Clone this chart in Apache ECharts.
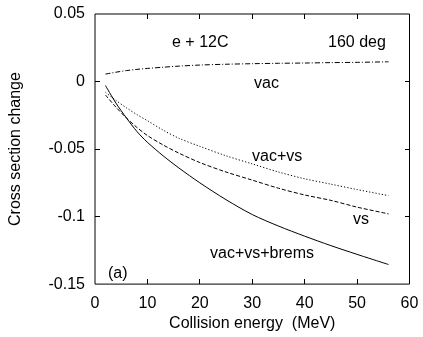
<!DOCTYPE html>
<html>
<head>
<meta charset="utf-8">
<script src="https://cdn.jsdelivr.net/npm/echarts@6/dist/echarts.min.js"></script>
<style>
  html, body { margin: 0; padding: 0; background: #fff; }
  #chart { width: 423px; height: 337px; }
</style>
</head>
<body>
<div id="chart"></div>
<script>
// Collision energies (MeV) at which each curve is sampled
const energy = [2, 4, 6, 8, 10, 13, 16, 20, 25, 30, 35, 40, 45, 50, 56];

// Cross section change, e + 12C at 160 deg
const vac       = [0.0055, 0.0069, 0.0081, 0.0090, 0.0097, 0.0106, 0.0114, 0.0122, 0.0128, 0.0132, 0.0135, 0.0137, 0.0140, 0.0142, 0.0146];
const vacVs     = [-0.008, -0.014, -0.0195, -0.0245, -0.029, -0.036, -0.042, -0.048, -0.055, -0.061, -0.067, -0.072, -0.076, -0.080, -0.0845];
const vs        = [-0.010, -0.019, -0.027, -0.034, -0.040, -0.047, -0.053, -0.060, -0.067, -0.073, -0.079, -0.084, -0.088, -0.093, -0.098];
const vacVsBrem = [-0.003, -0.016, -0.027, -0.037, -0.045, -0.055, -0.064, -0.075, -0.0875, -0.0985, -0.107, -0.1145, -0.1215, -0.128, -0.1355];

// Axis ticks
const xTicks = [0, 10, 20, 30, 40, 50, 60];
const yTicks = [-0.15, -0.1, -0.05, 0, 0.05];

const FONT = '"Liberation Sans", Arial, Helvetica, sans-serif';
const FS = 16;
const TICK_LEN = 5;

const xMin = xTicks[0], xMax = xTicks[xTicks.length - 1];
const yMin = yTicks[0], yMax = yTicks[yTicks.length - 1];

const pairs = (ys) => energy.map((x, i) => [x, ys[i]]);

function lineSeries(name, ys, dash) {
  return {
    name: name,
    type: 'line',
    data: pairs(ys),
    smooth: 0.3,
    showSymbol: false,
    symbol: 'none',
    silent: true,
    lineStyle: { color: '#000', width: 1, type: dash }
  };
}

// A tick mark drawn as a thin filled bar
const bar = (x, y, w, h) => ({ type: 'rect', shape: { x: x, y: y, width: w, height: h }, style: { fill: '#000', stroke: null } });

// Inward ticks on the bottom and top edges, one pair per x tick value
function xTickItem(params, api) {
  const v = api.value(0);
  const b = api.coord([v, yMin]);
  const t = api.coord([v, yMax]);
  const x = Math.floor(b[0]);
  return {
    type: 'group',
    children: [
      bar(x, Math.round(b[1]) - TICK_LEN, 1, TICK_LEN),
      bar(x, Math.round(t[1]), 1, TICK_LEN)
    ]
  };
}

// Inward ticks on the left and right edges, one pair per y tick value
function yTickItem(params, api) {
  const v = api.value(1);
  const l = api.coord([xMin, v]);
  const r = api.coord([xMax, v]);
  const y = Math.floor(l[1]);
  return {
    type: 'group',
    children: [
      bar(Math.round(l[0]), y, TICK_LEN, 1),
      bar(Math.round(r[0]) - TICK_LEN, y, TICK_LEN, 1)
    ]
  };
}

const chart = echarts.init(document.getElementById('chart'), null, { renderer: 'canvas' });

// In-plot annotations: [text, left, bottom]
const notes = [
  ['e + 12C', 172, 51],
  ['160 deg', 328, 51],
  ['vac', 254, 92],
  ['vac+vs', 252, 165],
  ['vs', 353, 228],
  ['vac+vs+brems', 210, 262],
  ['(a)', 108, 282]
];

chart.setOption({
  animation: false,
  backgroundColor: '#fff',
  // The grid border draws the closed frame around the plot
  grid: { show: true, left: 93, right: 13.5, top: 14, bottom: 51, containLabel: false,
          borderColor: '#000', borderWidth: 1, backgroundColor: 'transparent' },
  xAxis: {
    type: 'value', min: xMin, max: xMax, interval: 10,
    name: 'Collision energy  (MeV)', nameLocation: 'middle', nameGap: 29,
    nameTextStyle: { fontFamily: FONT, fontSize: FS, color: '#000' },
    axisLine: { show: false, onZero: false },
    axisTick: { show: false },
    splitLine: { show: false },
    axisLabel: { margin: 11, fontFamily: FONT, fontSize: FS, color: '#000',
      formatter: (v) => xTicks.includes(v) ? String(v) : '' }
  },
  yAxis: {
    type: 'value', min: yMin, max: yMax, interval: 0.05,
    name: 'Cross section change', nameLocation: 'middle', nameGap: 71, nameRotate: 90,
    nameTextStyle: { fontFamily: FONT, fontSize: FS, color: '#000' },
    axisLine: { show: false, onZero: false },
    axisTick: { show: false },
    splitLine: { show: false },
    axisLabel: { margin: 10, fontFamily: FONT, fontSize: FS, color: '#000',
      formatter: (v) => String(Math.round(v * 100) / 100) }
  },
  series: [
    lineSeries('vac', vac, [5, 2, 1, 2]),
    lineSeries('vac+vs', vacVs, [1.2, 2]),
    lineSeries('vs', vs, [4, 2]),
    lineSeries('vac+vs+brems', vacVsBrem, 'solid'),
    { type: 'custom', silent: true, clip: false, z: 5,
      data: xTicks.slice(1, -1).map((v) => [v, yMin]), renderItem: xTickItem },
    { type: 'custom', silent: true, clip: false, z: 5,
      data: yTicks.slice(1, -1).map((v) => [xMin, v]), renderItem: yTickItem }
  ],
  graphic: notes.map(([t, x, y]) => ({
    type: 'text', x: x, y: y, silent: true,
    style: { text: t, fill: '#000', font: FS + 'px ' + FONT, textAlign: 'left', textVerticalAlign: 'bottom' }
  }))
});
</script>
</body>
</html>
